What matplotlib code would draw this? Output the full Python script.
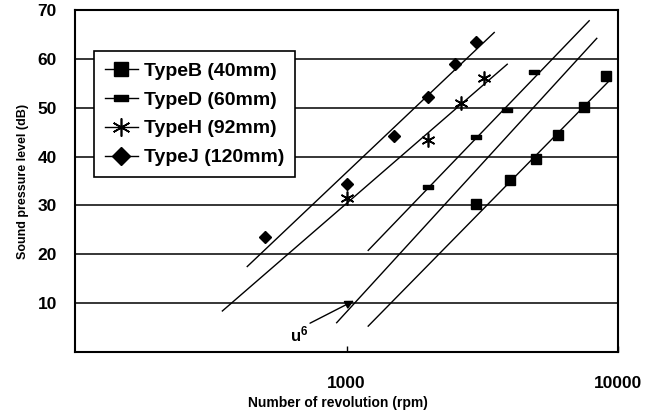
import matplotlib
matplotlib.use('Agg')
import matplotlib.pyplot as plt
from matplotlib.lines import Line2D

# ---- data ----
rpm_B = [3000, 4000, 5000, 6000, 7500, 9000]
spl_B = [30.2, 35.3, 39.6, 44.4, 50.2, 56.5]
rpm_D = [2000, 3000, 3900, 4900]
spl_D = [33.8, 44.0, 49.6, 57.4]
rpm_H = [1000, 2000, 2650, 3200]
spl_H = [31.5, 43.4, 51.0, 56.0]
rpm_J = [500, 1000, 1500, 2000, 2500, 3000]
spl_J = [23.5, 34.4, 44.2, 52.1, 58.9, 63.5]

series_labels = ["TypeB (40mm)", "TypeD (60mm)", "TypeH (92mm)", "TypeJ (120mm)"]

# u^6 guide lines (start / end points)
guide_x0 = [431, 349, 1202, 920, 1202]
guide_y0 = [17.5, 8.4, 20.8, 6.0, 5.3]
guide_x1 = [3500, 3908, 7830, 8350, 9200]
guide_y1 = [65.4, 58.9, 67.8, 64.2, 55.3]

y_ticks = [10, 20, 30, 40, 50, 60, 70]
x_ticks = [1000, 10000]
x_ticklabels = ["1000", "10000"]

plt.rcParams['font.family'] = ['Liberation Sans', 'DejaVu Sans']
plt.rcParams['font.weight'] = 'bold'
plt.rcParams['mathtext.fontset'] = 'custom'
plt.rcParams['mathtext.rm'] = 'Liberation Sans:bold'
plt.rcParams['mathtext.bf'] = 'Liberation Sans:bold'
plt.rcParams['mathtext.default'] = 'rm'

fig = plt.figure(figsize=(6.6, 4.12), dpi=100)
ax = fig.add_axes([0.1136, 0.1456, 0.8228, 0.8301])
ax.set_xscale('log')
ax.set_xlim(100, 10000)
ax.set_ylim(0, 70)

for v in y_ticks[:-1]:
    ax.axhline(v, color='black', lw=1.1, zorder=1)

for xa, ya, xb, yb in zip(guide_x0, guide_y0, guide_x1, guide_y1):
    ax.plot([xa, xb], [ya, yb], color='black', lw=1.0, zorder=2)

rect = [(-1, -0.45), (1, -0.45), (1, 0.45), (-1, 0.45), (-1, -0.45)]
ax.plot(rpm_B, spl_B, ls='none', marker='s', ms=7.5, color='black', zorder=3)
ax.plot(rpm_D, spl_D, ls='none', marker=rect, ms=7, color='black', zorder=3)
ax.plot(rpm_H, spl_H, ls='none', marker=(6, 2, 0), ms=10, mew=1.2, color='black', zorder=3)
ax.plot(rpm_J, spl_J, ls='none', marker='D', ms=6, color='black', zorder=3)

# annotation u^6
ax.annotate('', xy=(1065, 10.5), xytext=(734, 5.9),
            arrowprops=dict(arrowstyle='-|>', color='black', lw=1.0,
                            mutation_scale=13, shrinkA=0, shrinkB=0))
ax.text(668, 3.6, r'u$^6$', fontsize=12, ha='center', va='center', fontweight='bold')

handles = [
    Line2D([], [], color='black', lw=1.0, marker='s', ms=10),
    Line2D([], [], color='black', lw=1.0, marker=rect, ms=10),
    Line2D([], [], color='black', lw=1.0, marker=(6, 2, 0), ms=13, mew=1.2),
    Line2D([], [], color='black', lw=1.0, marker='D', ms=9),
]
leg = ax.legend(handles, series_labels, loc='upper left', bbox_to_anchor=(0.035, 0.879),
                borderaxespad=0, fancybox=False, framealpha=1, edgecolor='black',
                prop={'size': 14, 'weight': 'bold'}, handlelength=1.7,
                handletextpad=0.3, labelspacing=0.58, borderpad=0.55)
leg.get_frame().set_linewidth(1.2)
leg.set_zorder(5)

for s in ax.spines.values():
    s.set_linewidth(1.5)
    s.set_color('black')

ax.set_yticks(y_ticks)
ax.set_yticklabels([str(v) for v in y_ticks], fontsize=12.5, fontweight='bold')
ax.tick_params(axis='y', length=0, pad=13)
ax.set_xticks(x_ticks)
ax.set_xticklabels(x_ticklabels, fontsize=12.5, fontweight='bold')
ax.xaxis.set_minor_locator(matplotlib.ticker.NullLocator())
ax.tick_params(axis='x', direction='in', length=4, width=1.0, pad=17)

ax.set_xlabel('Number of revolution (rpm)', fontsize=10, fontweight='bold', labelpad=4)
ax.xaxis.label.set_x(0.484)
ax.set_ylabel('Sound pressure level (dB)', fontsize=9, fontweight='bold', labelpad=6)

fig.savefig('out.png', dpi=100)
